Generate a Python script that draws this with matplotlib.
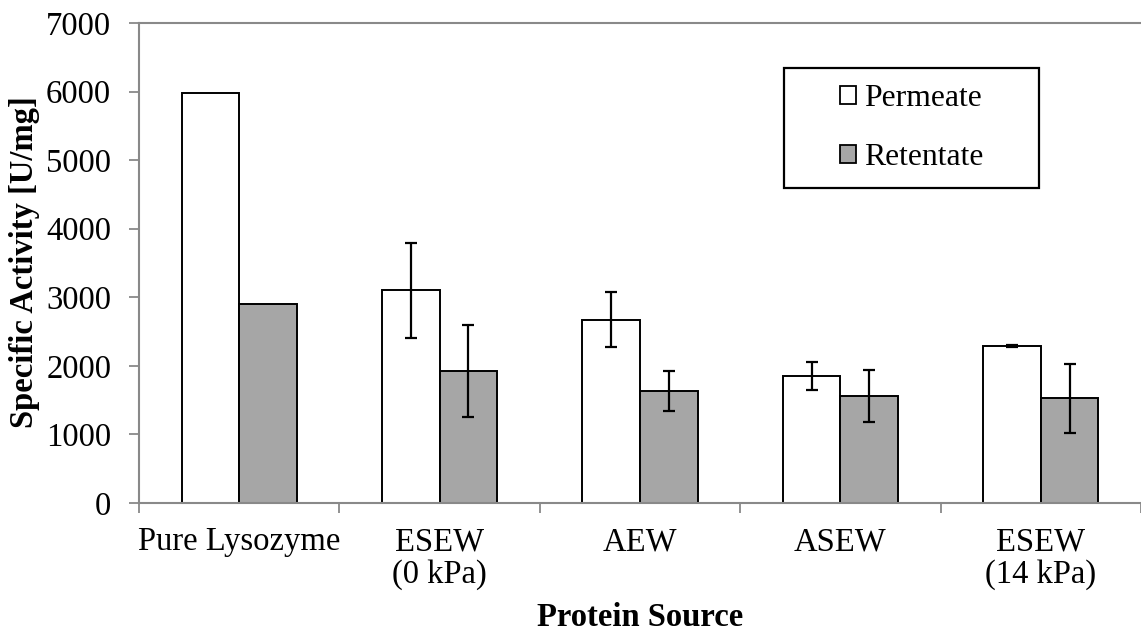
import matplotlib
matplotlib.use("Agg")
import matplotlib.pyplot as plt
import numpy as np
from matplotlib.patches import Rectangle, Patch

plt.rcParams['font.family'] = ['Liberation Serif', 'DejaVu Serif']

categories = ["Pure Lysozyme", "ESEW\n(0 kPa)", "AEW", "ASEW", "ESEW\n(14 kPa)"]
permeate = [5985, 3100, 2675, 1850, 2290]
permeate_err = [0, 690, 400, 200, 12]
retentate = [2900, 1920, 1630, 1560, 1525]
retentate_err = [0, 670, 290, 385, 505]
series_names = ["Permeate", "Retentate"]
yticks = [0, 1000, 2000, 3000, 4000, 5000, 6000, 7000]

W, H = 1141, 633
fig = plt.figure(figsize=(W / 100, H / 100), dpi=100)
ax = fig.add_axes([139 / W, 1 - 503 / H, 1 - 139 / W, (503 - 23) / H])

fs = 23.5
grey = '#898989'
x = np.arange(len(categories))
bw = 0.287
ekw = dict(ecolor='black', elinewidth=1.6, capsize=4.5, capthick=1.6)
ax.bar(x - bw / 2, permeate, bw, color='white', edgecolor='black', linewidth=1.4,
       yerr=[e if e > 0 else np.nan for e in permeate_err], error_kw=ekw, zorder=2)
ax.bar(x + bw / 2, retentate, bw, color='#a6a6a6', edgecolor='black', linewidth=1.4,
       yerr=[e if e > 0 else np.nan for e in retentate_err], error_kw=ekw, zorder=2)

ax.set_xlim(-0.5, 4.49)
ax.set_ylim(0, 7000)
ax.set_yticks(yticks)
ax.set_yticklabels([str(v) for v in yticks], fontsize=fs)

ax.set_xticks(np.arange(-0.5, 4.6, 1.0))
ax.set_xticklabels([])
ax.set_xticks(x, minor=True)
ax.set_xticklabels(categories, minor=True, fontsize=fs, linespacing=1.08)
ax.tick_params(axis='x', which='major', length=7, width=1.3, color=grey, direction='out')
ax.tick_params(axis='x', which='minor', length=0, pad=17)
ax.tick_params(axis='y', length=7, width=1.3, color=grey, direction='out', pad=13)

for s in ['left', 'bottom', 'top']:
    ax.spines[s].set_color(grey)
    ax.spines[s].set_linewidth(1.5)
ax.spines['right'].set_visible(False)

ax.set_xlabel("Protein Source", fontsize=fs, fontweight='bold')
ax.xaxis.set_label_coords(0.5, -0.207)
ax.set_ylabel("Specific Activity [U/mg]", fontsize=fs, fontweight='bold', va='center')
ax.yaxis.set_label_coords(-0.114, 0.502)

# legend box
bx0, bx1 = (784 - 139) / 1002, (1039 - 139) / 1002
by0, by1 = (503 - 188) / 480, (503 - 68) / 480
ax.add_patch(Rectangle((bx0, by0), bx1 - bx0, by1 - by0, transform=ax.transAxes,
                       facecolor='white', edgecolor='black', linewidth=1.6,
                       clip_on=False, zorder=5))
handles = [Patch(facecolor='white', edgecolor='black', linewidth=1.3),
           Patch(facecolor='#a6a6a6', edgecolor='black', linewidth=1.3)]
leg = ax.legend(handles, series_names, loc='center',
                bbox_to_anchor=((bx0 + bx1) / 2, (by0 + by1) / 2),
                frameon=False, fontsize=22.8, handlelength=0.5, handleheight=0.5,
                handletextpad=0.25, labelspacing=0.95, borderpad=0)
leg.set_zorder(6)

fig.savefig("out.png", dpi=100)
